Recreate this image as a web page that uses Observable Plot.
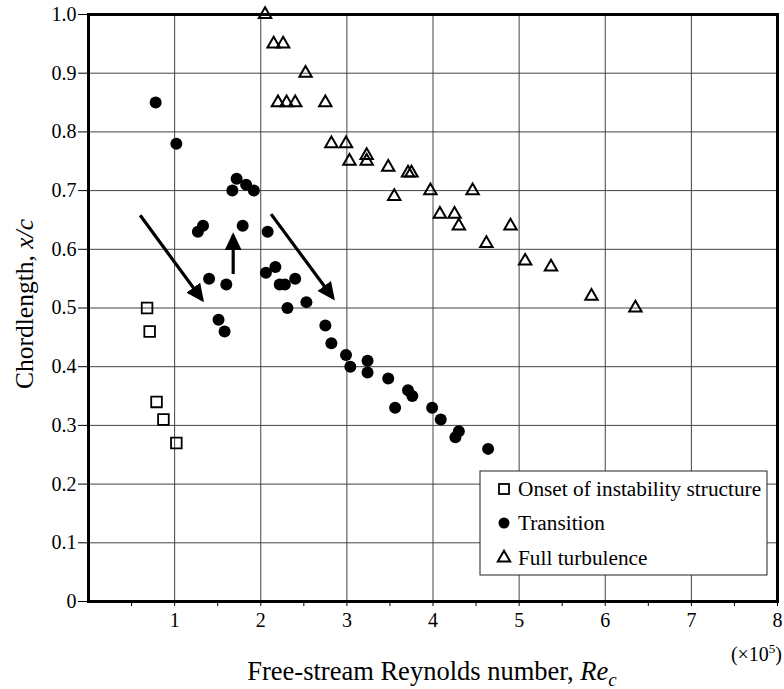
<!DOCTYPE html>
<html><head><meta charset="utf-8">
<script src="https://cdn.jsdelivr.net/npm/d3@7"></script>
<script src="https://cdn.jsdelivr.net/npm/@observablehq/plot@0.6"></script>
<style>body{margin:0;background:#fff}</style>
</head><body><div id="chart"></div>
<script>
// Onset of instability structure
const onsetRe = [0.68, 0.71, 0.79, 0.87, 1.02];
const onsetXc = [0.50, 0.46, 0.34, 0.31, 0.27];
// Transition
const transitionRe = [0.78, 1.02, 1.27, 1.33, 1.40, 1.51, 1.58, 1.60, 1.67, 1.72, 1.79, 1.83, 1.92, 2.06, 2.08, 2.17, 2.22, 2.28, 2.31, 2.40, 2.53, 2.75, 2.82, 2.99, 3.04, 3.24, 3.24, 3.48, 3.56, 3.71, 3.76, 3.99, 4.09, 4.26, 4.30, 4.64];
const transitionXc = [0.85, 0.78, 0.63, 0.64, 0.55, 0.48, 0.46, 0.54, 0.70, 0.72, 0.64, 0.71, 0.70, 0.56, 0.63, 0.57, 0.54, 0.54, 0.50, 0.55, 0.51, 0.47, 0.44, 0.42, 0.40, 0.41, 0.39, 0.38, 0.33, 0.36, 0.35, 0.33, 0.31, 0.28, 0.29, 0.26];
// Full turbulence
const turbulenceRe = [2.05, 2.15, 2.26, 2.20, 2.30, 2.40, 2.52, 2.75, 2.82, 2.99, 3.03, 3.23, 3.23, 3.48, 3.55, 3.71, 3.75, 3.97, 4.08, 4.25, 4.30, 4.46, 4.62, 4.90, 5.07, 5.37, 5.84, 6.35];
const turbulenceXc = [1.00, 0.95, 0.95, 0.85, 0.85, 0.85, 0.90, 0.85, 0.78, 0.78, 0.75, 0.76, 0.75, 0.74, 0.69, 0.73, 0.73, 0.70, 0.66, 0.66, 0.64, 0.70, 0.61, 0.64, 0.58, 0.57, 0.52, 0.50];
// Trend arrows (start -> tip)
const arrowRe1 = [0.60, 1.68, 2.12];
const arrowXc1 = [0.658, 0.558, 0.660];
const arrowRe2 = [1.32, 1.68, 2.84];
const arrowXc2 = [0.514, 0.624, 0.517];
// Ticks and labels
const xTickValues = [0.5, 1, 1.5, 2, 2.5, 3, 3.5, 4, 4.5, 5, 5.5, 6, 6.5, 7, 7.5, 8];
const xGridValues = [1, 2, 3, 4, 5, 6, 7];
const yTickValues = [0, 0.1, 0.2, 0.3, 0.4, 0.5, 0.6, 0.7, 0.8, 0.9, 1.0];
const yGridValues = [0.1, 0.2, 0.3, 0.4, 0.5, 0.6, 0.7, 0.8, 0.9];
const legendLabels = ["Onset of instability structure", "Transition", "Full turbulence"];
const xTitle = "Free-stream Reynolds number, ";
const yTitle = "Chordlength, ";

const pts = (xs, ys) => xs.map((x, i) => ({x, y: ys[i]}));
const onset = pts(onsetRe, onsetXc);
const transition = pts(transitionRe, transitionXc);
const turbulence = pts(turbulenceRe, turbulenceXc);
const arrows = arrowRe1.map((d, i) => ({x1: d, y1: arrowXc1[i], x2: arrowRe2[i], y2: arrowXc2[i]}));

const NS = "http://www.w3.org/2000/svg";
const headMarker = (color, context) => {
  const doc = (context && context.document) || document;
  const m = doc.createElementNS(NS, "marker");
  m.setAttribute("viewBox", "-18 -8.5 18 17");
  m.setAttribute("markerWidth", "18");
  m.setAttribute("markerHeight", "17");
  m.setAttribute("markerUnits", "userSpaceOnUse");
  m.setAttribute("orient", "auto");
  m.setAttribute("refX", "-3");
  m.setAttribute("refY", "0");
  const p = doc.createElementNS(NS, "path");
  p.setAttribute("d", "M-18,-8.5L0,0L-18,8.5Z");
  p.setAttribute("fill", color);
  p.setAttribute("stroke", "none");
  m.appendChild(p);
  return m;
};

const FONT = "'Liberation Serif','Times New Roman',serif";
const plot = Plot.plot({
  width: 784, height: 689,
  marginTop: 14, marginRight: 7, marginBottom: 88, marginLeft: 88,
  style: {fontFamily: FONT, fontSize: "20px", color: "#000", background: "#fff", overflow: "visible"},
  x: {domain: [0, 8]},
  y: {domain: [0, 1]},
  marks: [
    Plot.gridX(xGridValues, {stroke: "#444", strokeOpacity: 1, strokeWidth: 1}),
    Plot.gridY(yGridValues, {stroke: "#444", strokeOpacity: 1, strokeWidth: 1}),
    Plot.axisX(xTickValues, {tickSize: 5, tickPadding: 6, label: null, fontSize: 20, tickFormat: d => Number.isInteger(d) ? String(d) : ""}),
    Plot.axisY(yTickValues, {tickSize: 10, tickPadding: 2, label: null, fontSize: 20, tickFormat: d => d === 0 ? "0" : d.toFixed(1)}),
    Plot.frame({stroke: "#000", strokeWidth: 3}),
    Plot.link(arrows, {x1: "x1", y1: "y1", x2: "x2", y2: "y2", stroke: "#000", strokeWidth: 3.2, markerEnd: headMarker}),
    Plot.dot(onset, {x: "x", y: "y", symbol: "square", r: 6, stroke: "#000", strokeWidth: 1.8, fill: "none"}),
    Plot.dot(transition, {x: "x", y: "y", r: 6, fill: "#000"}),
    Plot.dot(turbulence, {x: "x", y: "y", symbol: "triangle", r: 4.6, stroke: "#000", strokeWidth: 2, fill: "none"})
  ]
});
document.getElementById("chart").appendChild(plot);

const svg = d3.select(plot);
// x-axis title
const xt = svg.append("text").attr("x", 432).attr("y", 680).attr("text-anchor", "middle")
  .style("font-family", FONT).style("font-size", "26.5px").attr("fill", "#000");
xt.append("tspan").text(xTitle);
xt.append("tspan").style("font-style", "italic").text("Re");
xt.append("tspan").style("font-style", "italic").style("font-size", "19px").attr("dy", 6).text("c");
// y-axis title
const yt = svg.append("text").attr("transform", "translate(33,304) rotate(-90)").attr("text-anchor", "middle")
  .style("font-family", FONT).style("font-size", "25.5px").attr("fill", "#000");
yt.append("tspan").text(yTitle);
yt.append("tspan").style("font-style", "italic").text("x/c");
// multiplier
const mt = svg.append("text").attr("x", 782).attr("y", 661).attr("text-anchor", "end")
  .style("font-family", FONT).style("font-size", "20px").attr("fill", "#000");
mt.append("tspan").text("(×10");
mt.append("tspan").style("font-size", "13px").attr("dy", -8).text("5");
mt.append("tspan").attr("dy", 8).text(")");

// legend
const lg = svg.append("g").attr("transform", "translate(480,471)");
lg.append("rect").attr("width", 287).attr("height", 104).attr("fill", "#fff").attr("stroke", "#222").attr("stroke-width", 1);
const rowY = [18, 52, 87];
lg.append("rect").attr("x", 19).attr("y", rowY[0] - 5).attr("width", 10).attr("height", 10)
  .attr("fill", "none").attr("stroke", "#000").attr("stroke-width", 1.8);
lg.append("circle").attr("cx", 24).attr("cy", rowY[1]).attr("r", 5.5).attr("fill", "#000");
lg.append("path").attr("d", d3.symbol(d3.symbolTriangle, 4.6 * 4.6 * Math.PI)()).attr("transform", `translate(24,${rowY[2]})`)
  .attr("fill", "none").attr("stroke", "#000").attr("stroke-width", 2);
legendLabels.forEach((t, i) => {
  lg.append("text").attr("x", 38).attr("y", rowY[i]).attr("dy", "0.33em").attr("text-anchor", "start")
    .style("font-family", FONT).style("font-size", "21.3px").attr("fill", "#000").text(t);
});
</script>
</body></html>
